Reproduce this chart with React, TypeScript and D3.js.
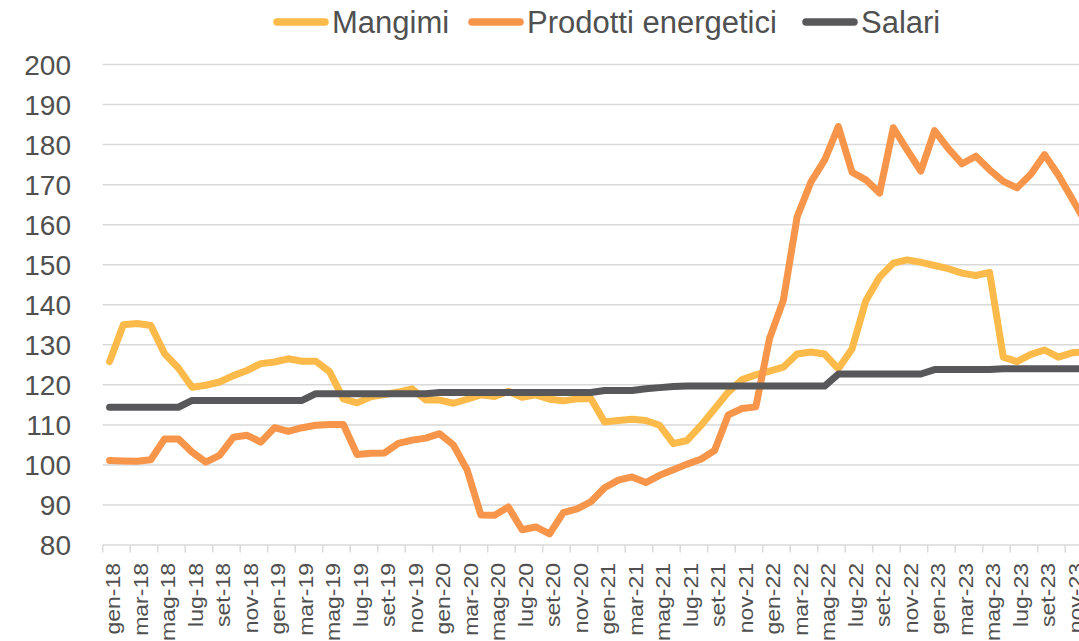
import * as d3 from "d3";
import { useEffect, useRef } from "react";

const monthNames = ["gen", "feb", "mar", "apr", "mag", "giu", "lug", "ago", "set", "ott", "nov", "dic"];
const years = ["18", "19", "20", "21", "22", "23"];
const months: string[] = [];
years.forEach((yr) => monthNames.forEach((m) => months.push(m + "-" + yr)));

const yTicks = [80, 90, 100, 110, 120, 130, 140, 150, 160, 170, 180, 190, 200];

const mangimi = [
	125.8, 135.0, 135.3, 134.8, 127.8, 124.2, 119.4, 119.9, 120.7, 122.3, 123.6, 125.3,
	125.7, 126.5, 125.9, 125.9, 123.3, 116.5, 115.5, 117.0, 117.6, 118.2, 119.0, 116.2,
	116.2, 115.4, 116.4, 117.5, 117.1, 118.4, 116.9, 117.5, 116.4, 116.0, 116.5, 116.6,
	110.7, 111.1, 111.4, 111.1, 109.9, 105.3, 106.1, 109.8, 114.0, 118.2, 121.3, 122.5,
	123.4, 124.4, 127.7, 128.2, 127.7, 124.0, 129.0, 141.0, 146.9, 150.4, 151.2, 150.6,
	149.8, 149.0, 147.9, 147.3, 148.1, 126.9, 125.8, 127.6, 128.7, 126.9, 128.0, 128.3,
];

const energetici = [
	101.1, 101.0, 100.9, 101.3, 106.5, 106.5, 103.2, 100.7, 102.4, 106.9, 107.4, 105.7,
	109.3, 108.4, 109.3, 109.9, 110.1, 110.1, 102.6, 102.9, 103.0, 105.4, 106.2, 106.7,
	107.8, 105.0, 98.8, 87.5, 87.4, 89.5, 83.8, 84.5, 82.8, 88.1, 89.0, 90.8,
	94.3, 96.2, 97.0, 95.6, 97.4, 98.8, 100.2, 101.4, 103.6, 112.5, 114.1, 114.5,
	131.6, 141.1, 161.9, 170.6, 176.1, 184.5, 173.1, 171.2, 167.9, 184.2, 178.7, 173.4,
	183.5, 179.0, 175.2, 177.1, 173.7, 170.8, 169.2, 172.6, 177.5, 172.4, 166.5, 160.5,
];

const salari = [
	114.4, 114.4, 114.4, 114.4, 114.4, 114.4, 116.1, 116.1, 116.1, 116.1, 116.1, 116.1,
	116.1, 116.1, 116.1, 117.8, 117.8, 117.8, 117.8, 117.8, 117.8, 117.8, 117.8, 117.8,
	118.1, 118.1, 118.1, 118.1, 118.1, 118.1, 118.1, 118.1, 118.1, 118.1, 118.1, 118.1,
	118.6, 118.6, 118.6, 119.0, 119.3, 119.6, 119.7, 119.7, 119.7, 119.7, 119.7, 119.7,
	119.7, 119.7, 119.7, 119.7, 119.7, 122.7, 122.7, 122.7, 122.7, 122.7, 122.7, 122.7,
	123.8, 123.8, 123.8, 123.8, 123.8, 124.0, 124.0, 124.0, 124.0, 124.0, 124.0, 124.0,
];

const series = [
	{ name: "Mangimi", values: mangimi, color: "#FBBA4A" },
	{ name: "Prodotti energetici", values: energetici, color: "#F7964A" },
	{ name: "Salari", values: salari, color: "#58585B" },
];

const legendX = [273, 468, 802];

function App() {
	const ref = useRef<SVGSVGElement>(null);

	useEffect(() => {
		document.body.style.margin = "0";
		const svg = d3.select(ref.current);
		svg.selectAll("*").remove();

		const width = 1079;
		const height = 641;
		const font = "'Liberation Sans', Arial, sans-serif";
		const textColor = "#505050";

		const x = d3.scaleBand().domain(months).range([102.7, 1092.7]);
		const y = d3.scaleLinear().domain([80, 200]).range([545, 64.5]);

		svg.attr("width", width).attr("height", height).style("display", "block");

		// gridlines
		svg.append("g")
			.selectAll("line")
			.data(yTicks.filter((t) => t > 80))
			.enter()
			.append("line")
			.attr("x1", 102.7)
			.attr("x2", 1092.7)
			.attr("y1", (d) => y(d))
			.attr("y2", (d) => y(d))
			.attr("stroke", "#D9D9D9")
			.attr("stroke-width", 1.5);

		// y labels
		svg.append("g")
			.selectAll("text")
			.data(yTicks)
			.enter()
			.append("text")
			.attr("x", 71)
			.attr("y", (d) => y(d))
			.attr("dy", "0.36em")
			.attr("text-anchor", "end")
			.style("font-family", font)
			.style("font-size", "28px")
			.attr("fill", textColor)
			.text((d) => d);

		// x axis
		svg.append("line")
			.attr("x1", 102.7)
			.attr("x2", 1092.7)
			.attr("y1", y(80))
			.attr("y2", y(80))
			.attr("stroke", "#D9D9D9")
			.attr("stroke-width", 1.5);

		const labelled = months.filter((_, i) => i % 2 === 0);

		svg.append("g")
			.selectAll("line")
			.data(labelled)
			.enter()
			.append("line")
			.attr("x1", (d) => x(d) as number)
			.attr("x2", (d) => x(d) as number)
			.attr("y1", y(80))
			.attr("y2", y(80) + 7.5)
			.attr("stroke", "#D9D9D9")
			.attr("stroke-width", 1.5);

		svg.append("g")
			.selectAll("text")
			.data(labelled)
			.enter()
			.append("text")
			.attr("transform", (d) => {
				const cx = (x(d) as number) + x.bandwidth() / 2 + 3.5;
				return `translate(${cx},563) rotate(-90) scale(1.15,1)`;
			})
			.attr("dy", "0.36em")
			.attr("text-anchor", "end")
			.style("font-family", font)
			.style("font-size", "20px")
			.attr("fill", textColor)
			.text((d) => d);

		// lines
		const line = d3
			.line<number>()
			.x((_, i) => (x(months[i]) as number) + x.bandwidth() / 2)
			.y((d) => y(d));

		series.forEach((s) => {
			svg.append("path")
				.datum(s.values)
				.attr("d", line)
				.attr("fill", "none")
				.attr("stroke", s.color)
				.attr("stroke-width", 7)
				.attr("stroke-linejoin", "round")
				.attr("stroke-linecap", "round");
		});

		// legend
		const legend = svg.append("g");
		series.forEach((s, i) => {
			legend.append("line")
				.attr("x1", legendX[i] + 4)
				.attr("x2", legendX[i] + 52)
				.attr("y1", 22)
				.attr("y2", 22)
				.attr("stroke", s.color)
				.attr("stroke-width", 7.5)
				.attr("stroke-linecap", "round");
			legend.append("text")
				.attr("x", legendX[i] + 59)
				.attr("y", 33)
				.style("font-family", font)
				.style("font-size", "31px")
				.attr("fill", textColor)
				.text(s.name);
		});
	}, []);

	return <svg ref={ref}></svg>;
}

export default App;
